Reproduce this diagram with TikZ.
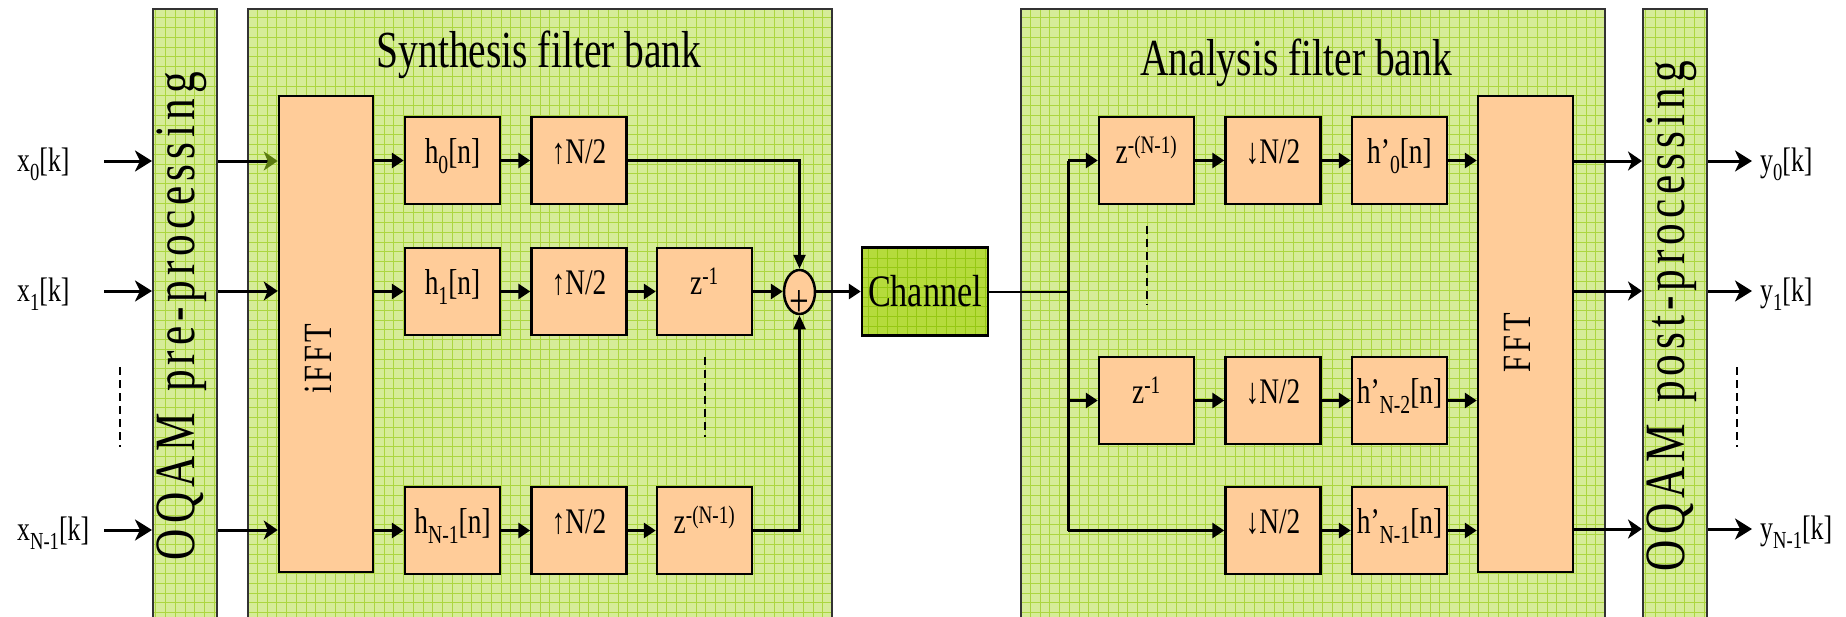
\documentclass[tikz,border=0pt]{standalone}
\usepackage{fontspec}
\setmainfont{Liberation Serif}[FakeStretch=0.76]
\usetikzlibrary{arrows.meta,shapes.geometric}
\definecolor{bandfill}{HTML}{D6EC98}
\definecolor{gridc}{HTML}{ACD640}
\definecolor{chanfill}{HTML}{B5DB3C}
\definecolor{changrid}{HTML}{96C814}
\definecolor{peach}{HTML}{FFCC99}
\definecolor{olivetip}{HTML}{5A7A10}
\makeatletter
\newcommand\spacedtext[2]{\@tfor\sp@tok:=#2\do{\sp@tok\kern#1}\unkern}
\makeatother
\newcommand\lsub[1]{\raisebox{-0.28em}{\fontsize{0.72em}{0.8em}\selectfont #1}}
\tikzset{
  greenbox/.style={draw=black!80, line width=2pt, fill=bandfill, inner sep=0pt, anchor=north west,
    minimum height=700pt,
    path picture={\draw[gridc, line width=0.9pt, step=9.75pt] (path picture bounding box.south west) grid (path picture bounding box.north east);}},
  chanbox/.style={draw=black, line width=2.5pt, fill=chanfill, inner sep=0pt,
    minimum width=126pt, minimum height=88pt, font=\fontsize{45}{50}\selectfont,
    path picture={\draw[changrid, line width=0.9pt, step=9.75pt] (path picture bounding box.south west) grid (path picture bounding box.north east);}},
  blk/.style={draw=black, line width=2.5pt, fill=peach, minimum width=95pt, minimum height=87pt,
    inner sep=0pt, text height=0.75em, text depth=0.25em, font=\fontsize{36}{40}\selectfont},
  tall/.style={draw=black, line width=2.5pt, fill=peach, minimum width=95pt, minimum height=476pt, inner sep=0pt},
  talltext/.style={rotate=90, inner sep=0pt, font=\fontsize{40}{44}\selectfont},
  bandtext/.style={rotate=90, inner sep=0pt, font=\fontsize{57}{60}\selectfont},
  title/.style={inner sep=0pt, font=\fontsize{52}{60}\selectfont},
  lbl/.style={inner sep=0pt, anchor=base west, font=\fontsize{34}{36}\selectfont},
  arr/.style={line width=3pt, -{Triangle[length=12pt,width=15pt]}},
  medarr/.style={line width=3pt, -{Stealth[length=14pt,width=19pt,inset=4pt]}},
  bigarr/.style={line width=3pt, -{Stealth[length=17pt,width=21pt,inset=5pt]}},
  oliarr/.style={line width=3pt, -{Stealth[length=14pt,width=19pt,inset=4pt,color=olivetip]}},
  ln/.style={line width=2pt},
  lnarr/.style={line width=2.5pt, -{Triangle[length=14pt,width=12pt]}},
  dashv/.style={line width=2.2pt, dash pattern=on 8pt off 5pt},
}
\begin{document}
\begin{tikzpicture}[x=1pt,y=-1pt]
\useasboundingbox (0,0) rectangle (1846,616);
% bands
\node[greenbox, minimum width=64pt] (pre) at (152,8) {};
\node[greenbox, minimum width=584pt] (syn) at (247,8) {};
\node[greenbox, minimum width=584pt] (ana) at (1020,8) {};
\node[greenbox, minimum width=64pt] (post) at (1642,8) {};
% band texts
\node[bandtext] (pretext) at (182,316) {\spacedtext{5pt}{OQAM~pre-processing}};
\node[bandtext] (posttext) at (1672,316) {\spacedtext{5pt}{OQAM~post-processing}};
\node[title] (syntitle) at (539,55) {Synthesis filter bank};
\node[title] (anatitle) at (1296,63) {Analysis filter bank};
% synthesis
\node[tall, minimum width=94pt] (ifft) at (326,334) {};
\node[talltext] (iffttext) at (318,359) {\spacedtext{3pt}{iFFT}};
\node[blk] (h0) at (452.5,160.5) {h\lsub{0}[n]};
\node[blk] (u0) at (579,160.5) {↑N/2};
\node[blk] (h1) at (452.5,291.5) {h\lsub{1}[n]};
\node[blk] (u1) at (579,291.5) {↑N/2};
\node[blk] (z1) at (704.5,291.5) {z\textsuperscript{-1}};
\node[blk] (hN) at (452.5,530.5) {h\lsub{N-1}[n]};
\node[blk] (uN) at (579,530.5) {↑N/2};
\node[blk] (zN) at (704.5,530.5) {z\textsuperscript{-(N-1)}};
\node[ellipse, draw=black, line width=2.5pt, fill=peach, minimum width=31pt, minimum height=44pt, inner sep=0pt,
  text height=0pt, text depth=0pt, font=\fontsize{46}{50}\selectfont] (sum) at (799.5,292) {\raisebox{-24pt}{+}};
\node[chanbox] (chan) at (925,291.5) {Channel};
% analysis
\node[tall] (fft) at (1525.5,334) {};
\node[talltext] (ffttext) at (1517,343) {\spacedtext{3.5pt}{FFT}};
\node[blk] (az0) at (1146.5,160.5) {z\textsuperscript{-(N-1)}};
\node[blk] (ad0) at (1273,160.5) {↓N/2};
\node[blk] (ah0) at (1399.5,160.5) {h’\lsub{0}[n]};
\node[blk] (az2) at (1146.5,400.5) {z\textsuperscript{-1}};
\node[blk] (ad2) at (1273,400.5) {↓N/2};
\node[blk] (ah2) at (1399.5,400.5) {h’\lsub{N-2}[n]};
\node[blk] (ad1) at (1273,530.5) {↓N/2};
\node[blk] (ah1) at (1399.5,530.5) {h’\lsub{N-1}[n]};
% labels
\node[lbl] (x0) at (17,171) {x\lsub{0}[k]};
\node[lbl] (x1) at (17,301) {x\lsub{1}[k]};
\node[lbl] (xN) at (17,540) {x\lsub{N-1}[k]};
\node[lbl] (y0) at (1760,171) {y\lsub{0}[k]};
\node[lbl] (y1) at (1760,301) {y\lsub{1}[k]};
\node[lbl] (yN) at (1760,539) {y\lsub{N-1}[k]};
% input arrows
\coordinate (xs0) at (104,161);
\coordinate (xs1) at (104,291);
\coordinate (xsN) at (104,530);
\draw[bigarr] (xs0) -- (xs0 -| pre.west);
\draw[bigarr] (xs1) -- (xs1 -| pre.west);
\draw[bigarr] (xsN) -- (xsN -| pre.west);
\draw[oliarr] (pre.east |- xs0) -- (ifft.west |- xs0);
\draw[medarr] (pre.east |- xs1) -- (ifft.west |- xs1);
\draw[medarr] (pre.east |- xsN) -- (ifft.west |- xsN);
% synthesis connectors
\draw[arr] (ifft.east |- h0) -- (h0);
\draw[arr] (ifft.east |- h1) -- (h1);
\draw[arr] (ifft.east |- hN) -- (hN);
\draw[arr] (h0) -- (u0);
\draw[arr] (h1) -- (u1);
\draw[arr] (hN) -- (uN);
\draw[arr] (u1) -- (z1);
\draw[arr] (uN) -- (zN);
\draw[arr] (z1) -- (z1 -| sum.west);
\draw[lnarr] (u0.east) -| (sum.north);
\draw[lnarr] (zN.east) -| (sum.south);
\draw[arr] (sum.east |- chan) -- (chan);
% analysis connectors
\coordinate (busTop) at (1068,160.5);
\coordinate (busBot) at (1068,530.5);
\draw[ln] (chan.east) -- (chan.east -| busTop);
\draw[line width=3pt] (busTop) -- (busBot);
\draw[arr] (busTop) -- (az0);
\draw[arr] (busTop |- az2) -- (az2);
\draw[arr] (busBot) -- (ad1);
\draw[arr] (az0) -- (ad0);
\draw[arr] (ad0) -- (ah0);
\draw[arr] (az2) -- (ad2);
\draw[arr] (ad2) -- (ah2);
\draw[arr] (ad1) -- (ah1);
\draw[arr] (ah0) -- (ah0 -| fft.west);
\draw[arr] (ah2) -- (ah2 -| fft.west);
\draw[arr] (ah1) -- (ah1 -| fft.west);
% output arrows
\coordinate (ys0) at (1752,161);
\coordinate (ys1) at (1752,291);
\coordinate (ysN) at (1752,529);
\draw[medarr] (fft.east |- ys0) -- (post.west |- ys0);
\draw[medarr] (fft.east |- ys1) -- (post.west |- ys1);
\draw[medarr] (fft.east |- ysN) -- (post.west |- ysN);
\draw[bigarr] (post.east |- ys0) -- (ys0);
\draw[bigarr] (post.east |- ys1) -- (ys1);
\draw[bigarr] (post.east |- ysN) -- (ysN);
% ellipsis dashes
\draw[dashv] (120,367) -- (120,447);
\draw[dashv] (705,357) -- (705,437);
\draw[dashv] (1147,226) -- (1147,305);
\draw[dashv] (1737,367) -- (1737,447);
\end{tikzpicture}
\end{document}
